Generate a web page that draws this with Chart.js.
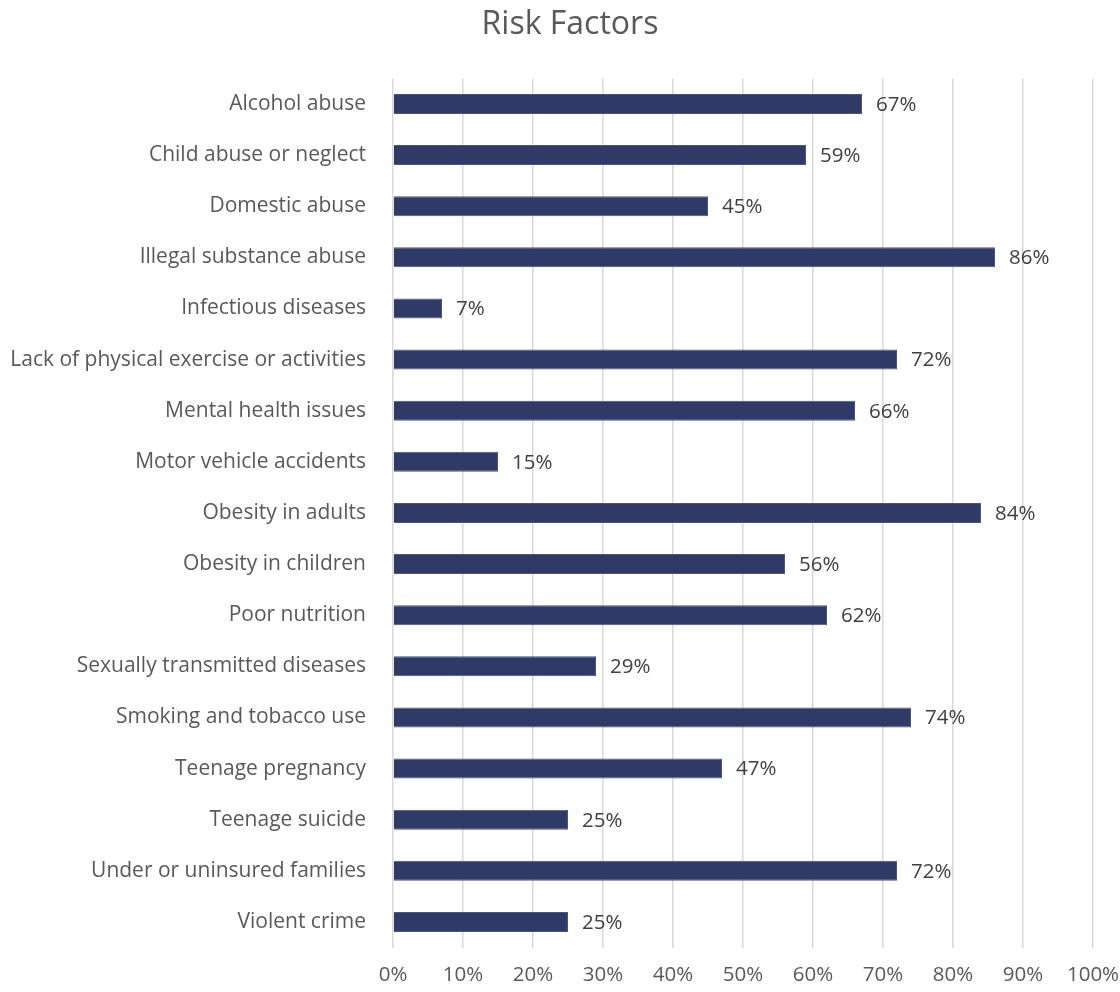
<!DOCTYPE html>
<html>
<head>
<meta charset="utf-8">
<script src="https://cdn.jsdelivr.net/npm/chart.js@4"></script>
<style>
  body { margin: 0; background: #fff; }
  #wrap { width: 1120px; height: 992px; }
</style>
</head>
<body>
<div id="wrap"><canvas id="riskChart"></canvas></div>
<script>
// chart data
const categories = [
  'Alcohol abuse', 'Child abuse or neglect', 'Domestic abuse', 'Illegal substance abuse',
  'Infectious diseases', 'Lack of physical exercise or activities', 'Mental health issues',
  'Motor vehicle accidents', 'Obesity in adults', 'Obesity in children', 'Poor nutrition',
  'Sexually transmitted diseases', 'Smoking and tobacco use', 'Teenage pregnancy',
  'Teenage suicide', 'Under or uninsured families', 'Violent crime'
];
const percents = [67, 59, 45, 86, 7, 72, 66, 15, 84, 56, 62, 29, 74, 47, 25, 72, 25];
const xTicks = [0, 10, 20, 30, 40, 50, 60, 70, 80, 90, 100];

const FONT = '"Open Sans", "Noto Sans", sans-serif';

// value labels at bar ends
const barLabels = {
  id: 'barLabels',
  afterDatasetsDraw(chart) {
    const ctx = chart.ctx;
    const meta = chart.getDatasetMeta(0);
    ctx.save();
    ctx.font = '20.5px ' + FONT;
    ctx.fillStyle = '#404040';
    ctx.textAlign = 'left';
    ctx.textBaseline = 'middle';
    meta.data.forEach((bar, i) => {
      ctx.fillText(percents[i] + '%', bar.x + 14, bar.y + 1);
    });
    ctx.restore();
  }
};

// title sits a bit right of the canvas centre in the original
const titleShift = {
  id: 'titleShift',
  afterLayout(chart) {
    chart.titleBlock.left += 47;
  }
};

new Chart(document.getElementById('riskChart'), {
  type: 'bar',
  data: {
    labels: categories,
    datasets: [{
      data: percents,
      backgroundColor: '#2f3b66',
      borderColor: '#4a5580',
      borderWidth: 1,
      categoryPercentage: 1,
      barPercentage: 0.39
    }]
  },
  options: {
    indexAxis: 'y',
    responsive: true,
    maintainAspectRatio: false,
    animation: false,
    layout: { padding: { left: 0, right: 27, top: 0, bottom: 0 } },
    plugins: {
      legend: { display: false },
      tooltip: { enabled: false },
      title: {
        display: true,
        text: 'Risk Factors',
        color: '#595959',
        font: { family: FONT, size: 32, weight: 'normal' },
        padding: { top: 6, bottom: 34 }
      }
    },
    scales: {
      x: {
        min: 0,
        max: 100,
        afterBuildTicks: (scale) => { scale.ticks = xTicks.map(v => ({ value: v })); },
        afterFit: (scale) => {
          scale.height = 44.5;
          scale.paddingLeft = 0;
          scale.paddingRight = 0;
        },
        border: { display: false },
        grid: { color: '#d9d9d9', lineWidth: 1.5, drawTicks: false },
        ticks: {
          color: '#595959',
          padding: 15,
          font: { family: FONT, size: 20.5 },
          callback: (v) => v + '%'
        }
      },
      y: {
        afterFit: (scale) => { scale.width = 393; },
        border: { display: false },
        grid: { display: false },
        ticks: {
          color: '#595959',
          padding: 19,
          font: { family: FONT, size: 21 }
        }
      }
    }
  },
  plugins: [barLabels, titleShift]
});
</script>
</body>
</html>
